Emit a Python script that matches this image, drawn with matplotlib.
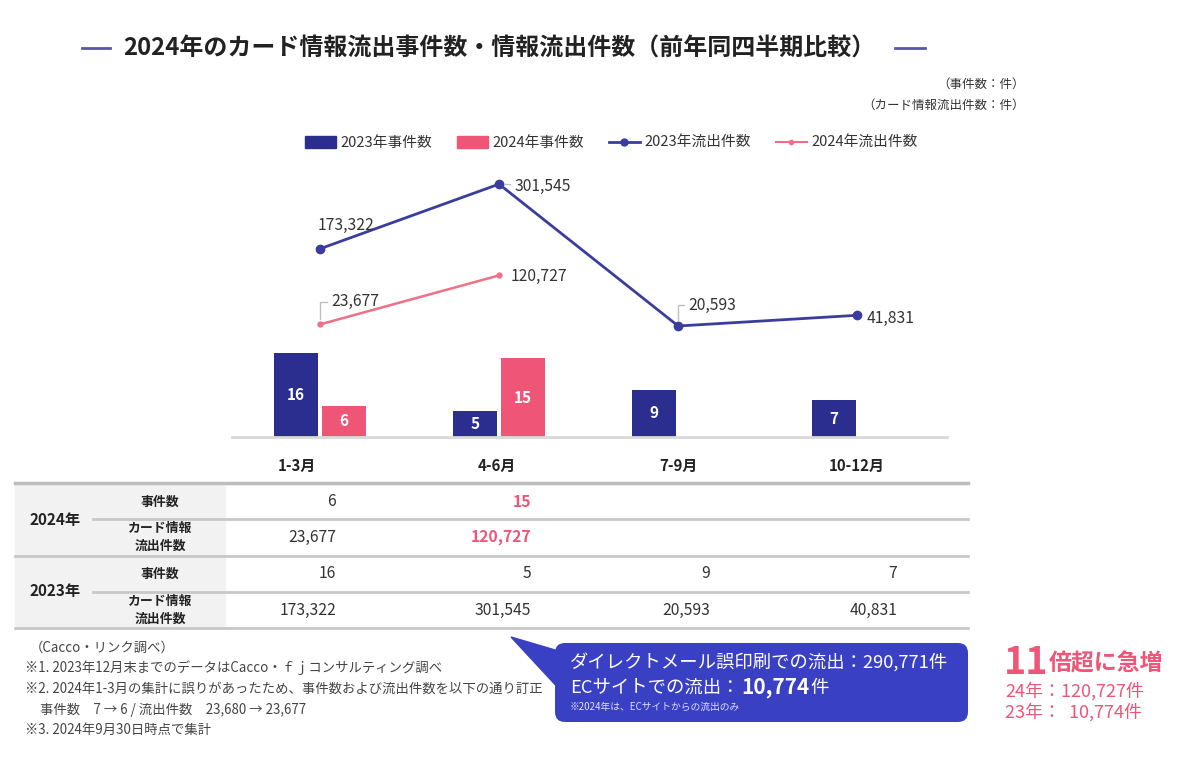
import matplotlib.pyplot as plt
from matplotlib.patches import Patch, Rectangle, FancyBboxPatch, Polygon
from matplotlib.lines import Line2D
import numpy as np

plt.rcParams['font.family'] = ['Noto Sans CJK JP', 'DejaVu Sans']

# data
quarters = ['1-3月', '4-6月', '7-9月', '10-12月']
cases_2023 = [16, 5, 9, 7]
cases_2024 = [6, 15]
leaks_2023 = [173322, 301545, 20593, 41831]
leaks_2024 = [23677, 120727]
table_leaks_2023 = [173322, 301545, 20593, 40831]  # table value as printed
legend_labels = ['2023年事件数', '2024年事件数', '2023年流出件数', '2024年流出件数']

NAVY = '#2b2e8f'
PINK = '#ee5577'
NAVY_LINE = '#3b3d9e'
PINK_LINE = '#ef6f86'
TXT = '#333333'

fig = plt.figure(figsize=(12, 7.69), dpi=100)

# chart axes (bars) + twin (lines)
ax = fig.add_axes([232 / 1200, 1 - 437 / 769, 715 / 1200, 267 / 769])
ax2 = ax.twinx()
x = np.arange(len(quarters))
w = 0.245
ax.bar(x - 0.133, cases_2023, w, color=NAVY, zorder=2)
ax.bar(x[:len(cases_2024)] + 0.133, cases_2024, w, color=PINK, zorder=2)
for c in ax.containers:
    ax.bar_label(c, label_type='center', color='white', fontsize=11, fontweight='bold')
ax.set_xlim(-0.49, 3.5)
ax.set_ylim(0, 267 / 5.25)
ax2.set_ylim(-100.6 * 1980, (267 - 100.6) * 1980)

ax2.plot(x, leaks_2023, color=NAVY_LINE, lw=2, marker='o', ms=6, zorder=3)
ax2.plot(x[:len(leaks_2024)], leaks_2024, color=PINK_LINE, lw=1.8, marker='o', ms=3.5, zorder=3)

for a in (ax, ax2):
    for s in a.spines.values():
        s.set_visible(False)
    a.set_xticks([])
    a.set_yticks([])
ax.spines['bottom'].set_visible(True)
ax.spines['bottom'].set_color('#d9d9d9')
ax.spines['bottom'].set_linewidth(2)

lead = dict(arrowstyle='-', color='#c0c0c0', lw=1, shrinkA=1, shrinkB=4)
lbl = dict(textcoords='offset points', ha='left', va='center', fontsize=11.3, color=TXT)
ax2.annotate(f'{leaks_2023[0]:,}', xy=(0, leaks_2023[0]), xytext=(-1.5, 17), **lbl)
ax2.annotate(f'{leaks_2023[1]:,}', xy=(1, leaks_2023[1]), xytext=(11.5, -1.5),
             arrowprops=lead, **lbl)
ax2.annotate(f'{leaks_2023[2]:,}', xy=(2, leaks_2023[2]), xytext=(7, 15),
             arrowprops=dict(lead, connectionstyle='angle,angleA=0,angleB=90,rad=0'), **lbl)
ax2.annotate(f'{leaks_2023[3]:,}', xy=(3, leaks_2023[3]), xytext=(6.5, -2), **lbl)
ax2.annotate(f'{leaks_2024[0]:,}', xy=(0, leaks_2024[0]), xytext=(8, 16.5),
             arrowprops=dict(lead, connectionstyle='angle,angleA=0,angleB=90,rad=0'), **lbl)
ax2.annotate(f'{leaks_2024[1]:,}', xy=(1, leaks_2024[1]), xytext=(8.6, -0.7), **lbl)

handles = [Patch(color=NAVY), Patch(color=PINK),
           Line2D([], [], color=NAVY_LINE, lw=2, marker='o', ms=5),
           Line2D([], [], color=PINK_LINE, lw=1.5, marker='o', ms=3)]
fig.legend(handles, legend_labels, loc='center', bbox_to_anchor=(611 / 1200, 1 - 143 / 769),
           ncol=4, frameon=False, fontsize=10.6, handlelength=2.1, handleheight=0.85,
           handletextpad=0.3, columnspacing=1.7, labelcolor=TXT)

# overlay in pixel coordinates
ov = fig.add_axes([0, 0, 1, 1])
ov.set_xlim(0, 1200)
ov.set_ylim(769, 0)
ov.axis('off')

# title
ov.text(499, 48, '2024年のカード情報流出事件数・情報流出件数（前年同四半期比較）',
        ha='center', va='center', fontsize=17.25, fontweight='bold', color='#222222')
ov.plot([82, 110], [48, 48], color='#5558aa', lw=2)
ov.plot([895, 925], [48, 48], color='#5558aa', lw=2)
ov.text(1025, 84, '（事件数：件）', ha='right', va='center', fontsize=9, color=TXT)
ov.text(1025, 105, '（カード情報流出件数：件）', ha='right', va='center', fontsize=9, color=TXT)

# column headers
for q, cx in zip(quarters, [297, 497, 678, 857]):
    ov.text(cx, 466, q, ha='center', va='center', fontsize=10.8, fontweight='bold', color='#222222')

# table
ov.add_patch(Rectangle((15, 483), 210, 145, color='#f2f2f2', zorder=0))
ov.plot([15, 968], [483, 483], color='#bdbdbd', lw=2.5)
for yy in (556, 628):
    ov.plot([15, 968], [yy, yy], color='#c8c8c8', lw=2)
for yy in (519, 592):
    ov.plot([93, 968], [yy, yy], color='#c8c8c8', lw=2)
ov.text(55, 520, '2024年', ha='center', va='center', fontsize=11, fontweight='bold', color='#222222')
ov.text(55, 591, '2023年', ha='center', va='center', fontsize=11, fontweight='bold', color='#222222')
for yy in (502, 574):
    ov.text(160, yy, '事件数', ha='center', va='center', fontsize=9.3, fontweight='bold', color='#222222')
for yy in (537, 610):
    ov.text(160, yy, 'カード情報\n流出件数', ha='center', va='center', fontsize=9.3,
            fontweight='bold', color='#222222', linespacing=1.3)
col_right = [336, 531, 710, 897]
for i, v in enumerate(cases_2024):
    hi = i == 1
    ov.text(col_right[i], 502, f'{v:,}', ha='right', va='center', fontsize=11.3,
            color=PINK if hi else TXT, fontweight='bold' if hi else 'normal')
for i, v in enumerate(leaks_2024):
    hi = i == 1
    ov.text(col_right[i], 537, f'{v:,}', ha='right', va='center', fontsize=11.3,
            color=PINK if hi else TXT, fontweight='bold' if hi else 'normal')
for i, v in enumerate(cases_2023):
    ov.text(col_right[i], 574, f'{v:,}', ha='right', va='center', fontsize=11.3, color=TXT)
for i, v in enumerate(table_leaks_2023):
    ov.text(col_right[i], 610, f'{v:,}', ha='right', va='center', fontsize=11.3, color=TXT)

# notes
notes = [(30, 648, '（Cacco・リンク調べ）'),
         (25, 668, '※1. 2023年12月末までのデータはCacco・ｆｊコンサルティング調べ'),
         (25, 689, '※2. 2024年1-3月の集計に誤りがあったため、事件数および流出件数を以下の通り訂正'),
         (40, 710, '事件数　7 → 6 / 流出件数　23,680 → 23,677'),
         (25, 730, '※3. 2024年9月30日時点で集計')]
for nx, ny, t in notes:
    ov.text(nx, ny, t, ha='left', va='center', fontsize=9.6, color='#444444')

# callout
BLUE = '#3a40c4'
ov.add_patch(Polygon([(511, 637), (562, 652), (562, 692)], closed=True, color=BLUE))
ov.add_patch(FancyBboxPatch((555, 643), 413, 79, boxstyle='round,pad=0,rounding_size=10',
                            fc=BLUE, ec='none'))
ov.text(570, 663, 'ダイレクトメール誤印刷での流出：290,771件', ha='left', va='center',
        fontsize=13.2, color='white')
t1 = ov.text(570, 688, 'ECサイトでの流出：', ha='left', va='center', fontsize=13.2, color='white')
t2 = ov.annotate('10,774', xy=(1, 0), xycoords=t1, xytext=(1, -0.5), textcoords='offset points',
                 ha='left', va='bottom', fontsize=15, fontweight='bold', color='white')
ov.annotate('件', xy=(1, 0), xycoords=t2, xytext=(1, 0.5), textcoords='offset points',
            ha='left', va='bottom', fontsize=13.2, color='white')
ov.text(570, 707, '※2024年は、ECサイトからの流出のみ', ha='left', va='center', fontsize=7, color='#e0e0ff')

# highlight
ov.text(1004, 662, '11', ha='left', va='center', fontsize=27, fontweight='bold', color=PINK)
ov.text(1049, 664, '倍超に急増', ha='left', va='center', fontsize=16.5, fontweight='bold', color=PINK)
ov.text(1005, 691, '24年：120,727件', ha='left', va='center', fontsize=13, color=PINK)
ov.text(1005, 712, '23年：  10,774件', ha='left', va='center', fontsize=13, color=PINK)

fig.savefig('out.png', dpi=100, facecolor='white')
